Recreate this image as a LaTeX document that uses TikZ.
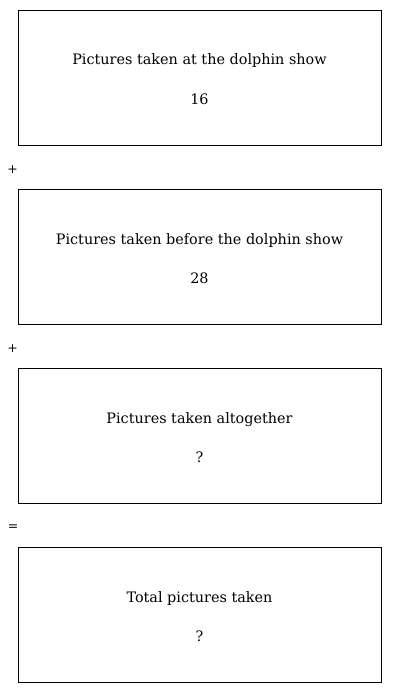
\documentclass[tikz,border=0pt]{standalone}
\usepackage{fontspec}
\setmainfont{DejaVu Serif}
\usetikzlibrary{calc}
\begin{document}
\begin{tikzpicture}[x=1pt,y=-1pt,
  panel/.style={draw=black,line width=0.9pt,minimum width=363pt,minimum height=135pt,inner sep=0pt},
  label/.style={font=\fontsize{14.4}{17}\selectfont,inner sep=0pt,anchor=base},
  op/.style={font=\fontsize{12.5}{14}\selectfont,inner sep=0pt}]
\useasboundingbox (0,0) rectangle (400,693);
\foreach \i/\y/\ta/\tb in {1/77.5/{Pictures taken at the dolphin show}/16,
                          2/256.5/{Pictures taken before the dolphin show}/28,
                          3/435.5/{Pictures taken altogether}/?,
                          4/614.5/{Total pictures taken}/?}{
  \node[panel] (box\i) at (199.5,\y) {};
  \node[label] (title\i) at ($(box\i.center)+(0,-12.5)$) {\ta};
  \node[label] (value\i) at ($(box\i.center)+(0,26.5)$) {\tb};
}
\node[op] (plus1) at (12.5,169.5) {+};
\node[op] (plus2) at (12.5,348.5) {+};
\node[op] (equals) at (13,527.5) {=};
\end{tikzpicture}
\end{document}
